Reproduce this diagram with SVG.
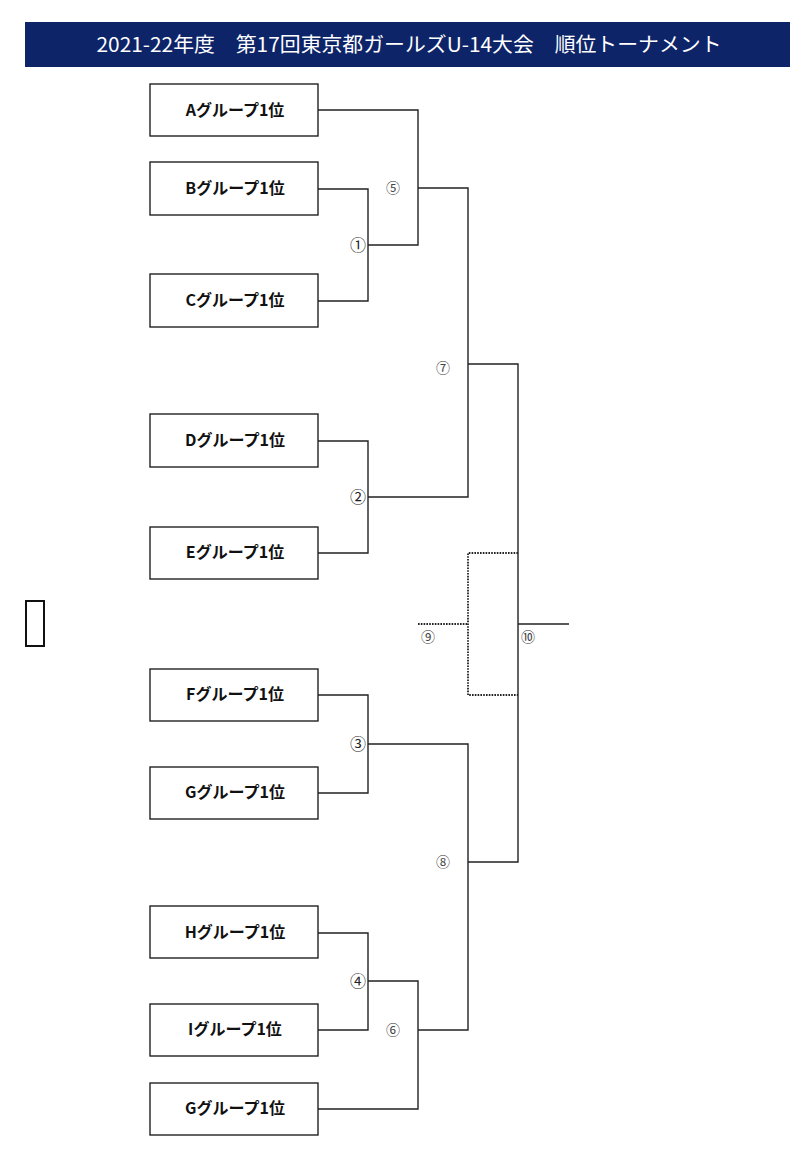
<svg xmlns="http://www.w3.org/2000/svg" width="800" height="1156" viewBox="0 0 800 1156">
<style>
.box{fill:#fff;stroke:#222;stroke-width:1.4}
.lbl{font-family:"Noto Sans CJK JP","Liberation Sans",sans-serif;font-weight:bold;font-size:16px;fill:#111;text-anchor:middle}
.ln{fill:none;stroke:#222;stroke-width:1.4}
.dot{fill:none;stroke:#222;stroke-width:1.8;stroke-dasharray:1.6 1.2}
.num{font-family:"Noto Sans CJK JP","DejaVu Sans",sans-serif;font-size:14px;fill:#444;text-anchor:middle}
.num1{font-size:16px;fill:#222}
</style>
<rect width="800" height="1156" fill="#fff"/>
<g id="header">
<rect x="25" y="22" width="765" height="45" fill="#0d2468"/>
<text x="409" y="52" font-family="'Noto Sans CJK JP','Liberation Sans',sans-serif" font-size="20" fill="#fff" text-anchor="middle" textLength="625" lengthAdjust="spacingAndGlyphs">2021-22年度　第17回東京都ガールズU-14大会　順位トーナメント</text>
</g>
<g id="nodeA"><rect class="box" x="150" y="84" width="168" height="52"/><text class="lbl" x="235" y="116">Aグループ1位</text></g>
<g id="nodeB"><rect class="box" x="150" y="162" width="168" height="53"/><text class="lbl" x="235" y="194">Bグループ1位</text></g>
<g id="nodeC"><rect class="box" x="150" y="274" width="168" height="53"/><text class="lbl" x="235" y="306">Cグループ1位</text></g>
<g id="nodeD"><rect class="box" x="150" y="414" width="168" height="53"/><text class="lbl" x="235" y="446">Dグループ1位</text></g>
<g id="nodeE"><rect class="box" x="150" y="527" width="168" height="52"/><text class="lbl" x="235" y="558">Eグループ1位</text></g>
<g id="nodeF"><rect class="box" x="150" y="669" width="168" height="52"/><text class="lbl" x="235" y="700">Fグループ1位</text></g>
<g id="nodeG"><rect class="box" x="150" y="767" width="168" height="52"/><text class="lbl" x="235" y="798">Gグループ1位</text></g>
<g id="nodeH"><rect class="box" x="150" y="906" width="168" height="52"/><text class="lbl" x="235" y="938">Hグループ1位</text></g>
<g id="nodeI"><rect class="box" x="150" y="1004" width="168" height="52"/><text class="lbl" x="235" y="1035">Iグループ1位</text></g>
<g id="nodeG2"><rect class="box" x="150" y="1083" width="168" height="52"/><text class="lbl" x="235" y="1114">Gグループ1位</text></g>
<g id="mark"><rect x="26" y="601" width="18" height="45" fill="none" stroke="#111" stroke-width="2"/></g>
<g id="connectors">
<polyline class="ln" points="318,110 418,110 418,245 368,245"/>
<polyline class="ln" points="318,189 368,189 368,301 318,301"/>
<polyline class="ln" points="418,188 468,188 468,497 368,497"/>
<polyline class="ln" points="318,441 368,441 368,553 318,553"/>
<polyline class="ln" points="468,364 518,364 518,862 468,862"/>
<polyline class="ln" points="318,695 368,695 368,793 318,793"/>
<polyline class="ln" points="368,744 468,744 468,1030 418,1030"/>
<polyline class="ln" points="318,933 368,933 368,1030 318,1030"/>
<polyline class="ln" points="368,981 418,981 418,1109 318,1109"/>
<line class="ln" x1="518" y1="624" x2="569" y2="624"/>
<polyline class="dot" points="518,553 468,553 468,695 518,695"/>
<line class="dot" x1="418" y1="624" x2="468" y2="624"/>
</g>
<g id="labels">
<text class="num num1" x="358" y="251">①</text>
<text class="num num1" x="358" y="503">②</text>
<text class="num num1" x="358" y="750">③</text>
<text class="num num1" x="358" y="987">④</text>
<text class="num" x="393" y="193">⑤</text>
<text class="num" x="393" y="1035">⑥</text>
<text class="num" x="443" y="373">⑦</text>
<text class="num" x="443" y="867">⑧</text>
<text class="num" x="428" y="642">⑨</text>
<text class="num" x="528" y="642">⑩</text>
</g>
</svg>
